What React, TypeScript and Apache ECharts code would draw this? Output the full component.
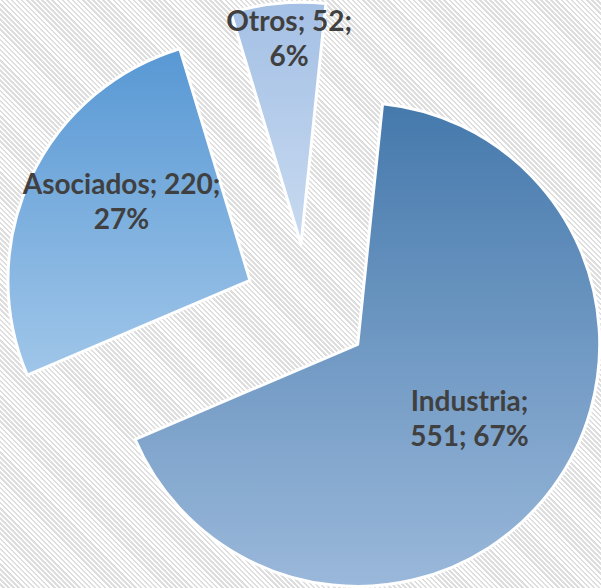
import React, { useEffect, useRef } from "react";
import * as echarts from "echarts";

const categories = ["Industria", "Asociados", "Otros"];
const values = [551, 220, 52];
// line break placement per label: after name, or after value
const breakAfter = ["name", "value", "value"];
const gradients = [
  ["#4579ac", "#9ab8da"],
  ["#5898d4", "#a0c6e9"],
  ["#a4c0e5", "#c8daf0"],
];
const labelShift = [
  [12, 0],
  [-16, -27],
  [0, -83],
];

export default function App() {
  const ref = useRef<HTMLDivElement>(null);
  useEffect(() => {
    if (!ref.current) return;
    const chart = echarts.init(ref.current, null, { renderer: "svg" });
    const data = categories.map((name, i) => ({
      name,
      value: values[i],
      selected: true,
      itemStyle: {
        color: new echarts.graphic.LinearGradient(0, 0, 0, 1, [
          { offset: 0, color: gradients[i][0] },
          { offset: 1, color: gradients[i][1] },
        ]),
      },
    }));
    chart.setOption({
      animation: false,
      backgroundColor: "transparent",
      series: [
        {
          type: "pie",
          center: [307, 307],
          radius: 242,
          startAngle: 84.1,
          clockwise: true,
          selectedMode: "multiple",
          selectedOffset: 63,
          avoidLabelOverlap: false,
          silent: true,
          data,
          itemStyle: { borderColor: "#ffffff", borderWidth: 3 },
          label: {
            position: "inside",
            color: "#404040",
            fontFamily: "Lato",
            fontWeight: "bold",
            fontSize: 28,
            lineHeight: 35,
            align: "center",
            formatter: (p: any) => {
              const pct = Math.round(p.percent) + "%";
              const i = p.dataIndex;
              if (breakAfter[i] === "name") return `${p.name};\n${p.value}; ${pct}`;
              return `${p.name}; ${p.value};\n${pct}`;
            },
          },
          labelLine: { show: false },
          labelLayout: (params: any) => ({
            dx: labelShift[params.dataIndex][0],
            dy: labelShift[params.dataIndex][1],
          }),
        },
      ],
    });
    return () => chart.dispose();
  }, []);
  return (
    <div
      style={{
        position: "fixed",
        left: 0,
        top: 0,
        width: 601,
        height: 588,
        backgroundColor: "#ffffff",
        backgroundImage:
          "repeating-linear-gradient(45deg, #ffffff 0px, #ffffff 1.8px, #dedede 1.8px, #dedede 3.6px)",
      }}
    >
      <div ref={ref} style={{ width: 601, height: 588 }} />
    </div>
  );
}
